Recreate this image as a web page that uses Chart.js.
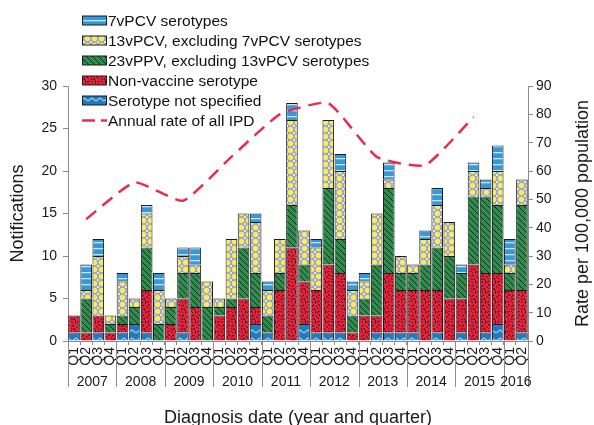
<!DOCTYPE html>
<html>
<head>
<meta charset="utf-8">
<script src="https://cdn.jsdelivr.net/npm/chart.js@4.4.1/dist/chart.umd.min.js"></script>
<style>
  html, body { margin: 0; padding: 0; background: #fff; }
</style>
</head>
<body>
<canvas id="chart" width="594" height="425"></canvas>
<script>
const years = ['2007', '2008', '2009', '2010', '2011', '2012', '2013', '2014', '2015', '2016'];
const quarters = [
  'Q1', 'Q2', 'Q3', 'Q4', 'Q1', 'Q2', 'Q3', 'Q4', 'Q1', 'Q2', 'Q3', 'Q4',
  'Q1', 'Q2', 'Q3', 'Q4', 'Q1', 'Q2', 'Q3', 'Q4', 'Q1', 'Q2', 'Q3', 'Q4',
  'Q1', 'Q2', 'Q3', 'Q4', 'Q1', 'Q2', 'Q3', 'Q4', 'Q1', 'Q2', 'Q3', 'Q4',
  'Q1', 'Q2'
];

// notifications per quarter, bottom of the stack first
const notSpecified = [1, 0, 1, 0, 1, 2, 1, 0, 0, 1, 0, 0, 0, 0, 0, 2, 1, 0, 0, 2, 1, 1, 1, 0, 0, 1, 1, 1, 1, 0, 1, 0, 1, 0, 1, 2, 0, 1];
const nonVaccine   = [2, 1, 2, 1, 1, 0, 5, 0, 2, 4, 4, 0, 3, 4, 5, 2, 0, 6, 11, 5, 5, 8, 7, 1, 3, 2, 7, 5, 5, 6, 5, 5, 4, 9, 7, 6, 6, 5];
const ppv23        = [0, 4, 0, 1, 1, 2, 5, 2, 2, 3, 4, 4, 1, 1, 6, 4, 2, 2, 5, 2, 0, 9, 4, 2, 2, 6, 10, 2, 2, 3, 5, 5, 3, 8, 9, 8, 2, 10];
const pcv13        = [0, 1, 7, 1, 4, 1, 4, 4, 1, 2, 1, 3, 1, 7, 4, 6, 3, 4, 10, 4, 5, 8, 8, 3, 2, 6, 1, 2, 1, 3, 5, 4, 0, 3, 1, 4, 1, 3];
const pcv7         = [0, 3, 2, 0, 1, 0, 1, 2, 0, 1, 2, 0, 0, 0, 0, 1, 1, 0, 2, 0, 1, 0, 2, 1, 1, 0, 2, 0, 0, 1, 2, 0, 1, 1, 1, 3, 3, 0];

// annual rate of all IPD per 100,000, plotted at Q2 of each year
const annualRate = [43, 56, 49.5, 65, 80, 84, 65, 62, 79];

const rateSeries = quarters.map(() => null);
annualRate.forEach((v, k) => { rateSeries[k * 4 + 1] = v; });

const FONT = "'Liberation Sans', Arial, sans-serif";
Chart.defaults.font.family = FONT;
Chart.defaults.color = '#1a1a1a';

const canvas = document.getElementById('chart');
const ctx = canvas.getContext('2d');

function makePattern(w, h, draw) {
  const c = document.createElement('canvas');
  c.width = w;
  c.height = h;
  draw(c.getContext('2d'), w, h);
  return ctx.createPattern(c, 'repeat');
}

const pat7 = makePattern(4, 6, (g, w, h) => {
  g.fillStyle = '#3797d8';
  g.fillRect(0, 0, w, h);
  g.fillStyle = '#c4e4f7';
  g.fillRect(0, 2, w, 1.3);
});

const pat13 = makePattern(7, 7, (g, w, h) => {
  g.fillStyle = '#9aa2c6';
  g.fillRect(0, 0, w, h);
  g.fillStyle = '#f7ec5c';
  g.beginPath();
  g.arc(3.5, 3.5, 2.7, 0, Math.PI * 2);
  g.fill();
  g.fillStyle = '#ffffff';
  [[0, 0], [7, 0], [0, 7], [7, 7]].forEach(p => {
    g.beginPath();
    g.arc(p[0], p[1], 1, 0, Math.PI * 2);
    g.fill();
  });
});

const pat23 = makePattern(6, 6, (g, w, h) => {
  g.fillStyle = '#2b8d50';
  g.fillRect(0, 0, w, h);
  g.strokeStyle = '#0d2a18';
  g.lineWidth = 1;
  g.beginPath();
  g.moveTo(-1, -1); g.lineTo(7, 7);
  g.moveTo(-1, 5); g.lineTo(1, 7);
  g.moveTo(5, -1); g.lineTo(7, 1);
  g.stroke();
});

const patNV = makePattern(10, 10, (g, w, h) => {
  g.fillStyle = '#ec1f3d';
  g.fillRect(0, 0, w, h);
  g.strokeStyle = '#1a0a0a';
  g.lineWidth = 1;
  g.beginPath();
  g.moveTo(1, 1); g.lineTo(3, 3);
  g.moveTo(5.5, 0.5); g.lineTo(5.5, 3.5);
  g.moveTo(7, 2.5); g.lineTo(9.5, 1);
  g.moveTo(1.5, 6.5); g.lineTo(4, 5);
  g.moveTo(6, 6); g.lineTo(8.5, 8.5);
  g.moveTo(1, 8.5); g.lineTo(2.5, 10);
  g.moveTo(8.5, 4); g.lineTo(9.5, 6);
  g.moveTo(4, 8); g.lineTo(4.5, 10);
  g.stroke();
});

const patNS = makePattern(8, 8, (g, w, h) => {
  g.fillStyle = '#2478bd';
  g.fillRect(0, 0, w, h);
  g.strokeStyle = '#92d2f4';
  g.lineWidth = 1.2;
  g.beginPath();
  g.moveTo(0, 5); g.lineTo(4, 2); g.lineTo(8, 5);
  g.stroke();
});

const barStyle = {
  borderColor: '#1c1c1c',
  borderWidth: 1,
  categoryPercentage: 1.0,
  barPercentage: 0.96,
  order: 1,
};

const legendItems = [
  { text: '7vPCV serotypes', fill: pat7 },
  { text: '13vPCV, excluding 7vPCV serotypes', fill: pat13 },
  { text: '23vPPV, excluding 13vPCV serotypes', fill: pat23 },
  { text: 'Non-vaccine serotype', fill: patNV },
  { text: 'Serotype not specified', fill: patNS },
  { text: 'Annual rate of all IPD', line: true },
];

const decorPlugin = {
  id: 'decor',
  afterDraw(chart) {
    const c = chart.ctx;
    const x = chart.scales.x;
    const area = chart.chartArea;
    const half = (x.getPixelForValue(1) - x.getPixelForValue(0)) / 2;

    c.save();
    // year groups under the quarter labels
    c.strokeStyle = '#8c8c8c';
    c.lineWidth = 1;
    c.fillStyle = '#1a1a1a';
    c.font = '14px ' + FONT;
    c.textAlign = 'center';
    c.textBaseline = 'middle';
    years.forEach((yr, k) => {
      const first = k * 4;
      const last = Math.min(first + 3, quarters.length - 1);
      const left = x.getPixelForValue(first) - half;
      const right = x.getPixelForValue(last) + half;
      c.beginPath();
      c.moveTo(Math.round(left) + 0.5, x.top);
      c.lineTo(Math.round(left) + 0.5, x.top + 46);
      if (last === quarters.length - 1) {
        c.moveTo(Math.round(right) + 0.5, x.top);
        c.lineTo(Math.round(right) + 0.5, x.top + 46);
      }
      c.stroke();
      c.fillText(yr, (left + right) / 2, x.top + 41);
    });

    // axis titles
    c.font = '18px ' + FONT;
    c.textBaseline = 'alphabetic';
    c.fillText('Diagnosis date (year and quarter)', (area.left + area.right) / 2, 423);
    c.textBaseline = 'middle';
    const midY = (area.top + area.bottom) / 2;
    c.save();
    c.translate(18, midY);
    c.rotate(-Math.PI / 2);
    c.fillText('Notifications', 0, 0);
    c.restore();
    c.save();
    c.translate(583, midY);
    c.rotate(-Math.PI / 2);
    c.fillText('Rate per 100,000 population', 0, 0);
    c.restore();

    // legend
    c.font = '15.5px ' + FONT;
    c.textAlign = 'left';
    legendItems.forEach((item, i) => {
      const cy = 20.5 + i * 20;
      if (item.line) {
        c.strokeStyle = '#ee2a4a';
        c.lineWidth = 2.5;
        c.setLineDash([13, 6]);
        c.beginPath();
        c.moveTo(82, cy);
        c.lineTo(107, cy);
        c.stroke();
        c.setLineDash([]);
      } else {
        c.fillStyle = item.fill;
        c.fillRect(82, cy - 4.5, 24, 9);
        c.strokeStyle = '#1c1c1c';
        c.lineWidth = 1;
        c.strokeRect(82.5, cy - 4.5, 24, 9);
      }
      c.fillStyle = '#111';
      c.fillText(item.text, 108, cy + 1);
    });
    c.restore();
  }
};

new Chart(ctx, {
  type: 'bar',
  data: {
    labels: quarters,
    datasets: [
      {
        type: 'line',
        label: 'Annual rate of all IPD',
        data: rateSeries,
        yAxisID: 'y2',
        borderColor: '#ee2a4a',
        borderWidth: 2.5,
        borderDash: [13, 8],
        pointRadius: 0,
        spanGaps: true,
        tension: 0.15,
        order: 0,
      },
      { label: 'Serotype not specified', data: notSpecified, backgroundColor: patNS, ...barStyle },
      { label: 'Non-vaccine serotype', data: nonVaccine, backgroundColor: patNV, ...barStyle },
      { label: '23vPPV, excluding 13vPCV serotypes', data: ppv23, backgroundColor: pat23, ...barStyle },
      { label: '13vPCV, excluding 7vPCV serotypes', data: pcv13, backgroundColor: pat13, ...barStyle },
      { label: '7vPCV serotypes', data: pcv7, backgroundColor: pat7, ...barStyle },
    ]
  },
  options: {
    responsive: false,
    animation: false,
    devicePixelRatio: 1,
    layout: { padding: { top: 86, left: 0, right: 0, bottom: 0 } },
    plugins: {
      legend: { display: false },
      tooltip: { enabled: false },
    },
    scales: {
      x: {
        stacked: true,
        grid: { drawOnChartArea: false, drawTicks: true, tickLength: 4, color: '#8c8c8c', offset: true },
        border: { color: '#8c8c8c' },
        ticks: { autoSkip: false, minRotation: 90, maxRotation: 90, padding: 2, font: { size: 14 }, color: '#1a1a1a' },
        afterFit: (scale) => { scale.height = 84; },
      },
      y: {
        stacked: true,
        min: 0,
        max: 30,
        ticks: { stepSize: 5, padding: 6, font: { size: 14 }, color: '#1a1a1a' },
        grid: { drawOnChartArea: false, tickLength: 5, color: '#8c8c8c' },
        border: { color: '#8c8c8c' },
        afterFit: (scale) => { scale.width = 68; },
      },
      y2: {
        position: 'right',
        min: 0,
        max: 90,
        ticks: { stepSize: 10, padding: 3, font: { size: 14 }, color: '#1a1a1a' },
        grid: { drawOnChartArea: false, tickLength: 5, color: '#8c8c8c' },
        border: { color: '#8c8c8c' },
        afterFit: (scale) => { scale.width = 66; },
      },
    },
  },
  plugins: [decorPlugin],
});
</script>
</body>
</html>
